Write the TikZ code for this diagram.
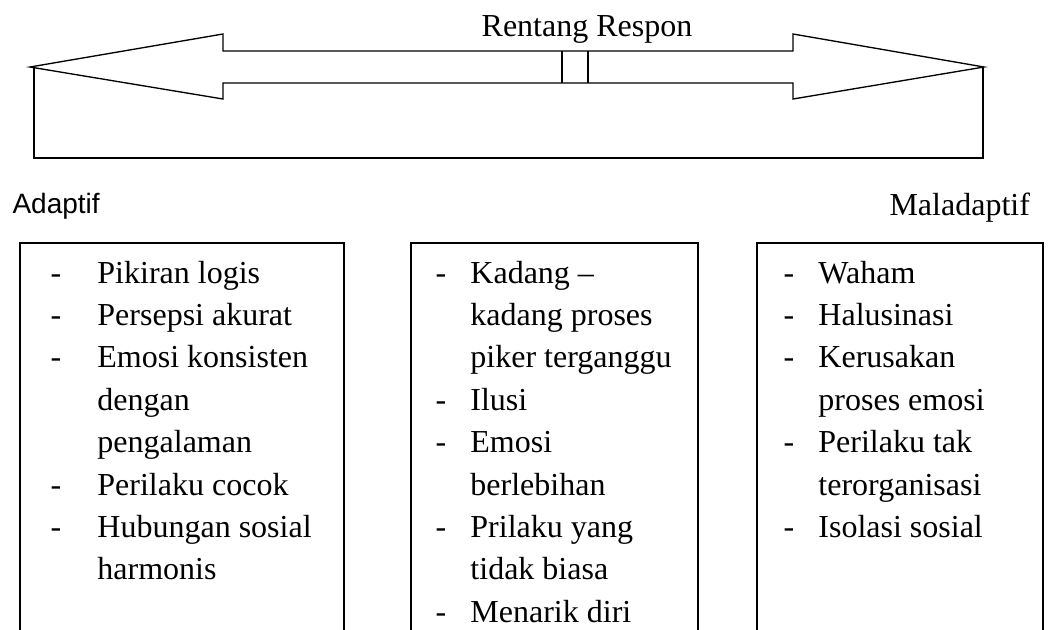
\documentclass[tikz,border=0pt]{standalone}
\usepackage{fontspec}
\setmainfont{Liberation Serif}
\newfontfamily\arialfont{Liberation Sans}
\newcommand{\resplist}[2]{\begin{tabular}[t]{@{}p{#1}@{}l@{}}#2\end{tabular}}

\begin{document}
\begin{tikzpicture}[x=0.375pt, y=-0.375pt, line join=miter,
    outline/.style={line width=0.5pt},
    respbox/.style={line width=0.8pt},
    itemlist/.style={anchor=base west, inner sep=0pt, font=\fontsize{12}{15.9}\selectfont}]
    \useasboundingbox (0,0) rectangle (1049,630);

    % double arrow
    \coordinate (tipL) at (30,67);
    \coordinate (tipR) at (984,67);
    \draw[outline] (tipL) -- (223,34) -- (223,51) -- (793,51) -- (793,34) -- (tipR)
        -- (793,99) -- (793,83) -- (223,83) -- (223,99) -- cycle;
    \draw[outline] (562,51) -- (562,83) (588,51) -- (588,83);
    \draw[outline] (34,67) |- (983,158) -- (983,67);
    \node[anchor=base, inner sep=0pt, font=\fontsize{12}{14}\selectfont] (rentang) at (587,36) {Rentang Respon};

    \node[anchor=base west, inner sep=0pt, font=\arialfont\fontsize{10.5}{12}\selectfont] (adaptif) at (12,213) {Adaptif};
    \node[anchor=base west, inner sep=0pt, font=\fontsize{12}{14}\selectfont] (maladaptif) at (889,215) {Maladaptif};

    % boxes
    \draw[respbox] (20,630) |- (344,243) -- (344,630);
    \draw[respbox] (411,630) |- (698,243) -- (698,630);
    \draw[respbox] (757,630) |- (1043,243) -- (1043,630);

    \node[itemlist] (adaptList) at (50,283) {\resplist{17.6pt}{%
        - & Pikiran logis\\
        - & Persepsi akurat\\
        - & Emosi konsisten\\
          & dengan\\
          & pengalaman\\
        - & Perilaku cocok\\
        - & Hubungan sosial\\
          & harmonis}};
    \node[itemlist] (midList) at (435,283) {\resplist{13.1pt}{%
        - & Kadang –\\
          & kadang proses\\
          & piker terganggu\\
        - & Ilusi\\
        - & Emosi\\
          & berlebihan\\
        - & Prilaku yang\\
          & tidak biasa\\
        - & Menarik diri}};
    \node[itemlist] (maladaptList) at (783,283) {\resplist{13.1pt}{%
        - & Waham\\
        - & Halusinasi\\
        - & Kerusakan\\
          & proses emosi\\
        - & Perilaku tak\\
          & terorganisasi\\
        - & Isolasi sosial}};

\end{tikzpicture}
\end{document}
